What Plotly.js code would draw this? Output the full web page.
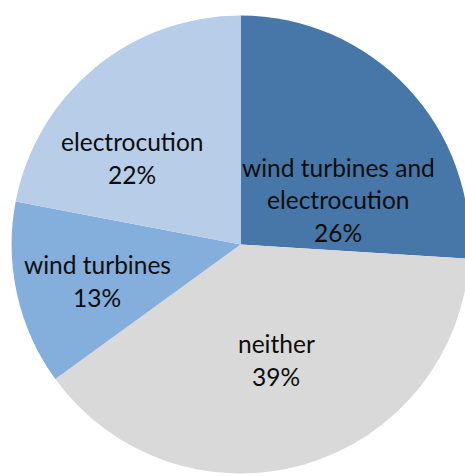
<!DOCTYPE html>
<html>
<head>
<meta charset="utf-8">
<script src="https://cdn.plot.ly/plotly-3.0.1.min.js"></script>
<style>
  html, body { margin: 0; padding: 0; background: #ffffff; overflow: hidden; }
  #chart { width: 480px; height: 476px; }
</style>
</head>
<body>
<div id="chart"></div>
<script>
// Share of responses, clockwise from 12 o'clock
const categories = ["wind turbines and electrocution", "neither", "wind turbines", "electrocution"];
const labelLines = [["wind turbines and", "electrocution"], ["neither"], ["wind turbines"], ["electrocution"]];
const shares = [26, 39, 13, 22];
const sliceColors = ["#4677a8", "#d9d9d9", "#84aedc", "#b8cde8"];

// Label anchor points (pixels from the top-left of the figure)
const labelCenters = [[338, 199.5], [276, 360], [97, 281], [132, 158]];

const W = 480, H = 476;
const LINE_GAP = 32.5;

const annotations = [];
categories.forEach((cat, i) => {
  const lines = labelLines[i].concat([shares[i] + "%"]);
  const [cx, cy] = labelCenters[i];
  const top = cy - (lines.length - 1) * LINE_GAP / 2;
  lines.forEach((t, k) => {
    annotations.push({
      text: t,
      xref: "paper", yref: "paper",
      x: cx / W, y: 1 - (top + k * LINE_GAP) / H,
      xanchor: "center", yanchor: "middle",
      showarrow: false,
      font: { family: "Lato, 'Open Sans', sans-serif", size: 24.5, color: "#0d0d0d" }
    });
  });
});

const cxPx = 240.6, cyPx = 244.5, rPx = 229;

const data = [{
  type: "pie",
  labels: categories,
  values: shares,
  sort: false,
  direction: "clockwise",
  rotation: 0,
  textinfo: "none",
  hoverinfo: "label+percent",
  marker: { colors: sliceColors, line: { width: 0 } },
  domain: {
    x: [(cxPx - rPx) / W, (cxPx + rPx) / W],
    y: [1 - (cyPx + rPx) / H, 1 - (cyPx - rPx) / H]
  }
}];

const layout = {
  width: W, height: H,
  margin: { l: 0, r: 0, t: 0, b: 0 },
  paper_bgcolor: "#ffffff",
  showlegend: false,
  annotations: annotations
};

Plotly.newPlot("chart", data, layout, { displayModeBar: false, staticPlot: true });
</script>
</body>
</html>
